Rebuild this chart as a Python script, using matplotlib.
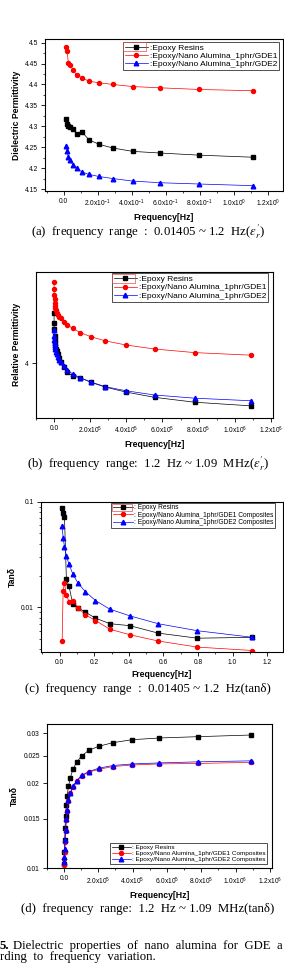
import matplotlib
matplotlib.use("Agg")
import matplotlib.pyplot as plt
from matplotlib.patches import Rectangle
from matplotlib.ticker import FixedLocator, NullFormatter, MultipleLocator

plt.rcParams["font.family"] = ["Liberation Sans", "DejaVu Sans"]
plt.rcParams["mathtext.fontset"] = "custom"
plt.rcParams["mathtext.rm"] = "Liberation Sans"
plt.rcParams["mathtext.it"] = "Liberation Sans:italic"

W, H = 284, 971

# ---- data -------------------------------------------------------------
series_labels = ["Epoxy Resins",
                 "Epoxy/Nano Alumina_1phr/GDE1",
                 "Epoxy/Nano Alumina_1phr/GDE2"]

# low range 0.01405 ~ 1.2 Hz
freq_low = [0.01405, 0.0197, 0.0276, 0.0386, 0.054, 0.0757, 0.106,
            0.148, 0.207, 0.29, 0.406, 0.569, 0.797, 1.115]
eps_low_epoxy = [4.317, 4.305, 4.301, 4.298, 4.293, 4.282, 4.287,
                 4.268, 4.257, 4.248, 4.240, 4.236, 4.231, 4.226]
eps_low_gde1 = [4.490, 4.481, 4.451, 4.447, 4.435, 4.423, 4.416,
                4.408, 4.404, 4.400, 4.395, 4.392, 4.388, 4.385]
eps_low_gde2 = [4.254, 4.242, 4.226, 4.219, 4.207, 4.200, 4.191,
                4.185, 4.180, 4.175, 4.169, 4.165, 4.162, 4.158]

tan_low_epoxy = [0.0877, 0.0776, 0.0712, 0.0184, 0.0158, 0.0107, 0.0099,
                 0.0090, 0.0079, 0.0070, 0.0067, 0.0057, 0.0051, 0.0052]
tan_low_gde1 = [0.0048, 0.0144, 0.0169, 0.0131, 0.0113, 0.0115, 0.0099,
                0.0085, 0.0075, 0.0062, 0.0055, 0.0048, 0.0042, 0.0039]
tan_low_gde2 = [0.0593, 0.0456, 0.0375, 0.0306, 0.0255, 0.0207, 0.0169,
                0.0141, 0.0116, 0.0096, 0.0083, 0.0070, 0.0060, 0.0052]

# high range 1.2 Hz ~ 1.09 MHz
freq_high = [1.2, 100, 1000, 2550, 3570, 5000, 7000, 9800, 13700, 19200,
             26900, 37700, 52800, 73900, 103000, 145000, 203000, 284000,
             397000, 556000, 779000, 1090000]
eps_high_epoxy = [4.235, 4.19, 4.16, 4.13, 4.11, 4.095, 4.08, 4.068, 4.056,
                  4.045, 4.025, 4.005, 3.982, 3.958, 3.940, 3.932, 3.911,
                  3.888, 3.865, 3.840, 3.817, 3.800]
eps_high_gde1 = [4.383, 4.35, 4.32, 4.30, 4.285, 4.27, 4.26, 4.25, 4.238,
                 4.227, 4.219, 4.211, 4.195, 4.180, 4.164, 4.144, 4.125,
                 4.105, 4.086, 4.067, 4.050, 4.038]
eps_high_gde2 = [4.156, 4.13, 4.11, 4.095, 4.085, 4.075, 4.065, 4.055, 4.043,
                 4.030, 4.017, 4.005, 3.985, 3.968, 3.950, 3.932, 3.912,
                 3.890, 3.871, 3.851, 3.836, 3.824]

freq_tan_high = [2550, 3570, 5000, 7000, 9800, 13700, 19200, 26900, 37700,
                 52800, 73900, 103000, 145000, 203000, 284000, 397000,
                 556000, 779000, 1090000]
tan_high_epoxy = [0.01033, 0.01139, 0.01259, 0.01385, 0.01531, 0.01674,
                  0.01806, 0.0195, 0.02092, 0.0224, 0.02371, 0.02496,
                  0.02615, 0.02702, 0.02782, 0.02851, 0.02891, 0.02922,
                  0.02962]
tan_high_gde1 = [0.0103, 0.0108, 0.0114, 0.0124, 0.0136, 0.0148, 0.0160,
                 0.0173, 0.0184, 0.0194, 0.0203, 0.0212, 0.0219, 0.0224,
                 0.0229, 0.0232, 0.0234, 0.0235, 0.0237]
tan_high_gde2 = [0.0105, 0.0110, 0.0117, 0.0126, 0.0137, 0.0149, 0.0161,
                 0.0174, 0.0185, 0.0195, 0.0204, 0.0213, 0.0220, 0.0226,
                 0.0231, 0.0234, 0.0236, 0.0238, 0.0240]

low_ticks = [0.0, 0.2, 0.4, 0.6, 0.8, 1.0, 1.2]
low_sci_labels = ["0.0", "2.0x10$^{-1}$", "4.0x10$^{-1}$", "6.0x10$^{-1}$",
                  "8.0x10$^{-1}$", "1.0x10$^{0}$", "1.2x10$^{0}$"]
low_plain_labels = ["0.0", "0.2", "0.4", "0.6", "0.8", "1.0", "1.2"]
eps_low_ticks = [4.15, 4.2, 4.25, 4.3, 4.35, 4.4, 4.45, 4.5]
eps_low_labels = ["4.15", "4.2", "4.25", "4.3", "4.35", "4.4", "4.45", "4.5"]
high_ticks = [0, 2e5, 4e5, 6e5, 8e5, 1e6, 1.2e6]
high_labels = ["0.0", "2.0x10$^{5}$", "4.0x10$^{5}$", "6.0x10$^{5}$",
               "8.0x10$^{5}$", "1.0x10$^{6}$", "1.2x10$^{6}$"]
tan_high_ticks = [0.01, 0.015, 0.02, 0.025, 0.03]
tan_high_labels = ["0.01", "0.015", "0.02", "0.025", "0.03"]

styles = [dict(color="black", marker="s", ms=2.9),
          dict(color="red", marker="o", ms=2.9),
          dict(color="blue", marker="^", ms=3.3)]

fig = plt.figure(figsize=(W / 100, H / 100), dpi=100)


def add_ax(left, top, right, bottom):
    return fig.add_axes([left / W, 1 - bottom / H, (right - left) / W,
                         (bottom - top) / H])


def style_ax(ax):
    for side in ["top", "right", "left", "bottom"]:
        ax.spines[side].set_linewidth(0.8)
    ax.tick_params(which="major", direction="out", length=3, width=0.6,
                   labelsize=4.8, pad=2)
    ax.tick_params(which="minor", direction="out", length=1.6, width=0.5)
    ax.tick_params(top=False, right=False, which="both")


def draw(ax, x, ys, labels, prefix, legend_box, fs, hl):
    for y, lab, st in zip(ys, labels, styles):
        ax.plot(x, y, lw=0.5, color=st["color"], marker=st["marker"],
                ms=st["ms"], mec=st["color"], label=prefix + lab)
    x0, y0 = legend_box
    leg = ax.legend(loc="upper left", bbox_to_anchor=(x0 / W, 1 - y0 / H),
                    bbox_transform=fig.transFigure, fontsize=fs, frameon=True,
                    fancybox=False, edgecolor="black", borderpad=0.25,
                    labelspacing=0.05, handlelength=hl, handletextpad=0.2,
                    borderaxespad=0)
    leg.get_frame().set_linewidth(0.6)


def red_frame(x0, y0, x1, y1):
    fig.patches.append(Rectangle((x0 / W, 1 - y1 / H), (x1 - x0) / W,
                                 (y1 - y0) / H, transform=fig.transFigure,
                                 fill=False, ec="#e05050", lw=0.5, zorder=10))


def axis_labels(ax, ylabel):
    ax.set_xlabel("Frequency[Hz]", fontsize=6.2, fontweight="bold", labelpad=3)
    ax.set_ylabel(ylabel, fontsize=6.2, fontweight="bold", labelpad=3)


# (a)
ax = add_ax(45, 39.3, 283, 190.7)
draw(ax, freq_low, [eps_low_epoxy, eps_low_gde1, eps_low_gde2],
     series_labels, ":", (122.7, 41.7), 6.0, 2.8)
ax.set_xlim(-0.11, 1.29)
ax.set_ylim(4.146, 4.508)
ax.xaxis.set_major_locator(FixedLocator(low_ticks))
ax.set_xticklabels(low_sci_labels)
ax.xaxis.set_minor_locator(MultipleLocator(0.1))
ax.yaxis.set_major_locator(FixedLocator(eps_low_ticks))
ax.set_yticklabels(eps_low_labels)
ax.yaxis.set_minor_locator(MultipleLocator(0.025))
axis_labels(ax, "Dielectric Permittivity")
style_ax(ax)
red_frame(123, 42.5, 146, 51.5)

# (b)
ax = add_ax(36, 271.7, 272.7, 418)
draw(ax, freq_high, [eps_high_epoxy, eps_high_gde1, eps_high_gde2],
     series_labels, ":", (111.7, 273.3), 6.0, 2.8)
ax.set_xlim(-0.1e6, 1.21e6)
ax.set_ylim(3.743, 4.43)
ax.xaxis.set_major_locator(FixedLocator(high_ticks))
ax.set_xticklabels(high_labels)
ax.xaxis.set_minor_locator(MultipleLocator(1e5))
ax.yaxis.set_major_locator(FixedLocator([4]))
ax.set_yticklabels(["4"])
axis_labels(ax, "Relative Permittivity")
style_ax(ax)
red_frame(112, 274, 135, 283)

# (c)
ax = add_ax(40.7, 501.7, 282.7, 651.7)
draw(ax, freq_low, [tan_low_epoxy, tan_low_gde1, tan_low_gde2],
     [l + (" Composites" if i else "") for i, l in enumerate(series_labels)],
     ": ", (111, 502.7), 4.8, 3.0)
ax.set_yscale("log")
ax.set_xlim(-0.11, 1.29)
ax.set_ylim(0.0038, 0.1)
ax.xaxis.set_major_locator(FixedLocator(low_ticks))
ax.set_xticklabels(low_plain_labels)
ax.xaxis.set_minor_locator(MultipleLocator(0.1))
ax.yaxis.set_major_locator(FixedLocator([0.01, 0.1]))
ax.set_yticklabels(["0.01", "0.1"])
ax.yaxis.set_minor_formatter(NullFormatter())
axis_labels(ax, "Tanδ")
style_ax(ax)
red_frame(112, 503.5, 132, 510.5)

# (d)
ax = add_ax(46.7, 724, 271.7, 868.3)
draw(ax, freq_tan_high, [tan_high_epoxy, tan_high_gde1, tan_high_gde2],
     [l + (" Composites" if i else "") for i, l in enumerate(series_labels)],
     ": ", (110, 843.3), 4.6, 3.0)
ax.set_yscale("log")
ax.set_xlim(-0.1e6, 1.21e6)
ax.set_ylim(0.01, 0.0324)
ax.xaxis.set_major_locator(FixedLocator(high_ticks))
ax.set_xticklabels(high_labels)
ax.xaxis.set_minor_locator(MultipleLocator(1e5))
ax.yaxis.set_major_locator(FixedLocator(tan_high_ticks))
ax.set_yticklabels(tan_high_labels)
ax.yaxis.set_minor_locator(FixedLocator([]))
axis_labels(ax, "Tanδ")
style_ax(ax)

# ---- captions -------------------------------------------------------------
serif = ["Liberation Serif", "DejaVu Serif"]
cap = dict(fontsize=9.2, family=serif, ha="center", va="center",
           math_fontfamily="stix")
fig.text(148.5 / W, 1 - 232 / H,
         r"(a)  frequency  range  :  0.01405 ~ 1.2  Hz($\epsilon_r^{\prime}$)", **cap)
fig.text(147.5 / W, 1 - 463.7 / H,
         r"(b)  frequency  range:  1.2  Hz ~ 1.09  MHz($\epsilon_r^{\prime}$)", **cap)
fig.text(147.5 / W, 1 - 689.3 / H,
         "(c)  frequency  range  :  0.01405 ~ 1.2  Hz(tanδ)", **cap)
fig.text(148 / W, 1 - 909 / H,
         "(d)  frequency  range:  1.2  Hz ~ 1.09  MHz(tanδ)", **cap)

fig.text(0, 1 - 946 / H, "5.", fontsize=9.2, family=serif,
         fontweight="bold", ha="left", va="center")
fig.text(283 / W, 1 - 946 / H,
         "Dielectric  properties  of  nano  alumina  for  GDE  a",
         fontsize=9.2, family=serif, ha="right", va="center")
fig.text(0, 1 - 957 / H, "rding  to  frequency  variation.", fontsize=9.2,
         family=serif, ha="left", va="center")

fig.savefig("out.png", dpi=100)
